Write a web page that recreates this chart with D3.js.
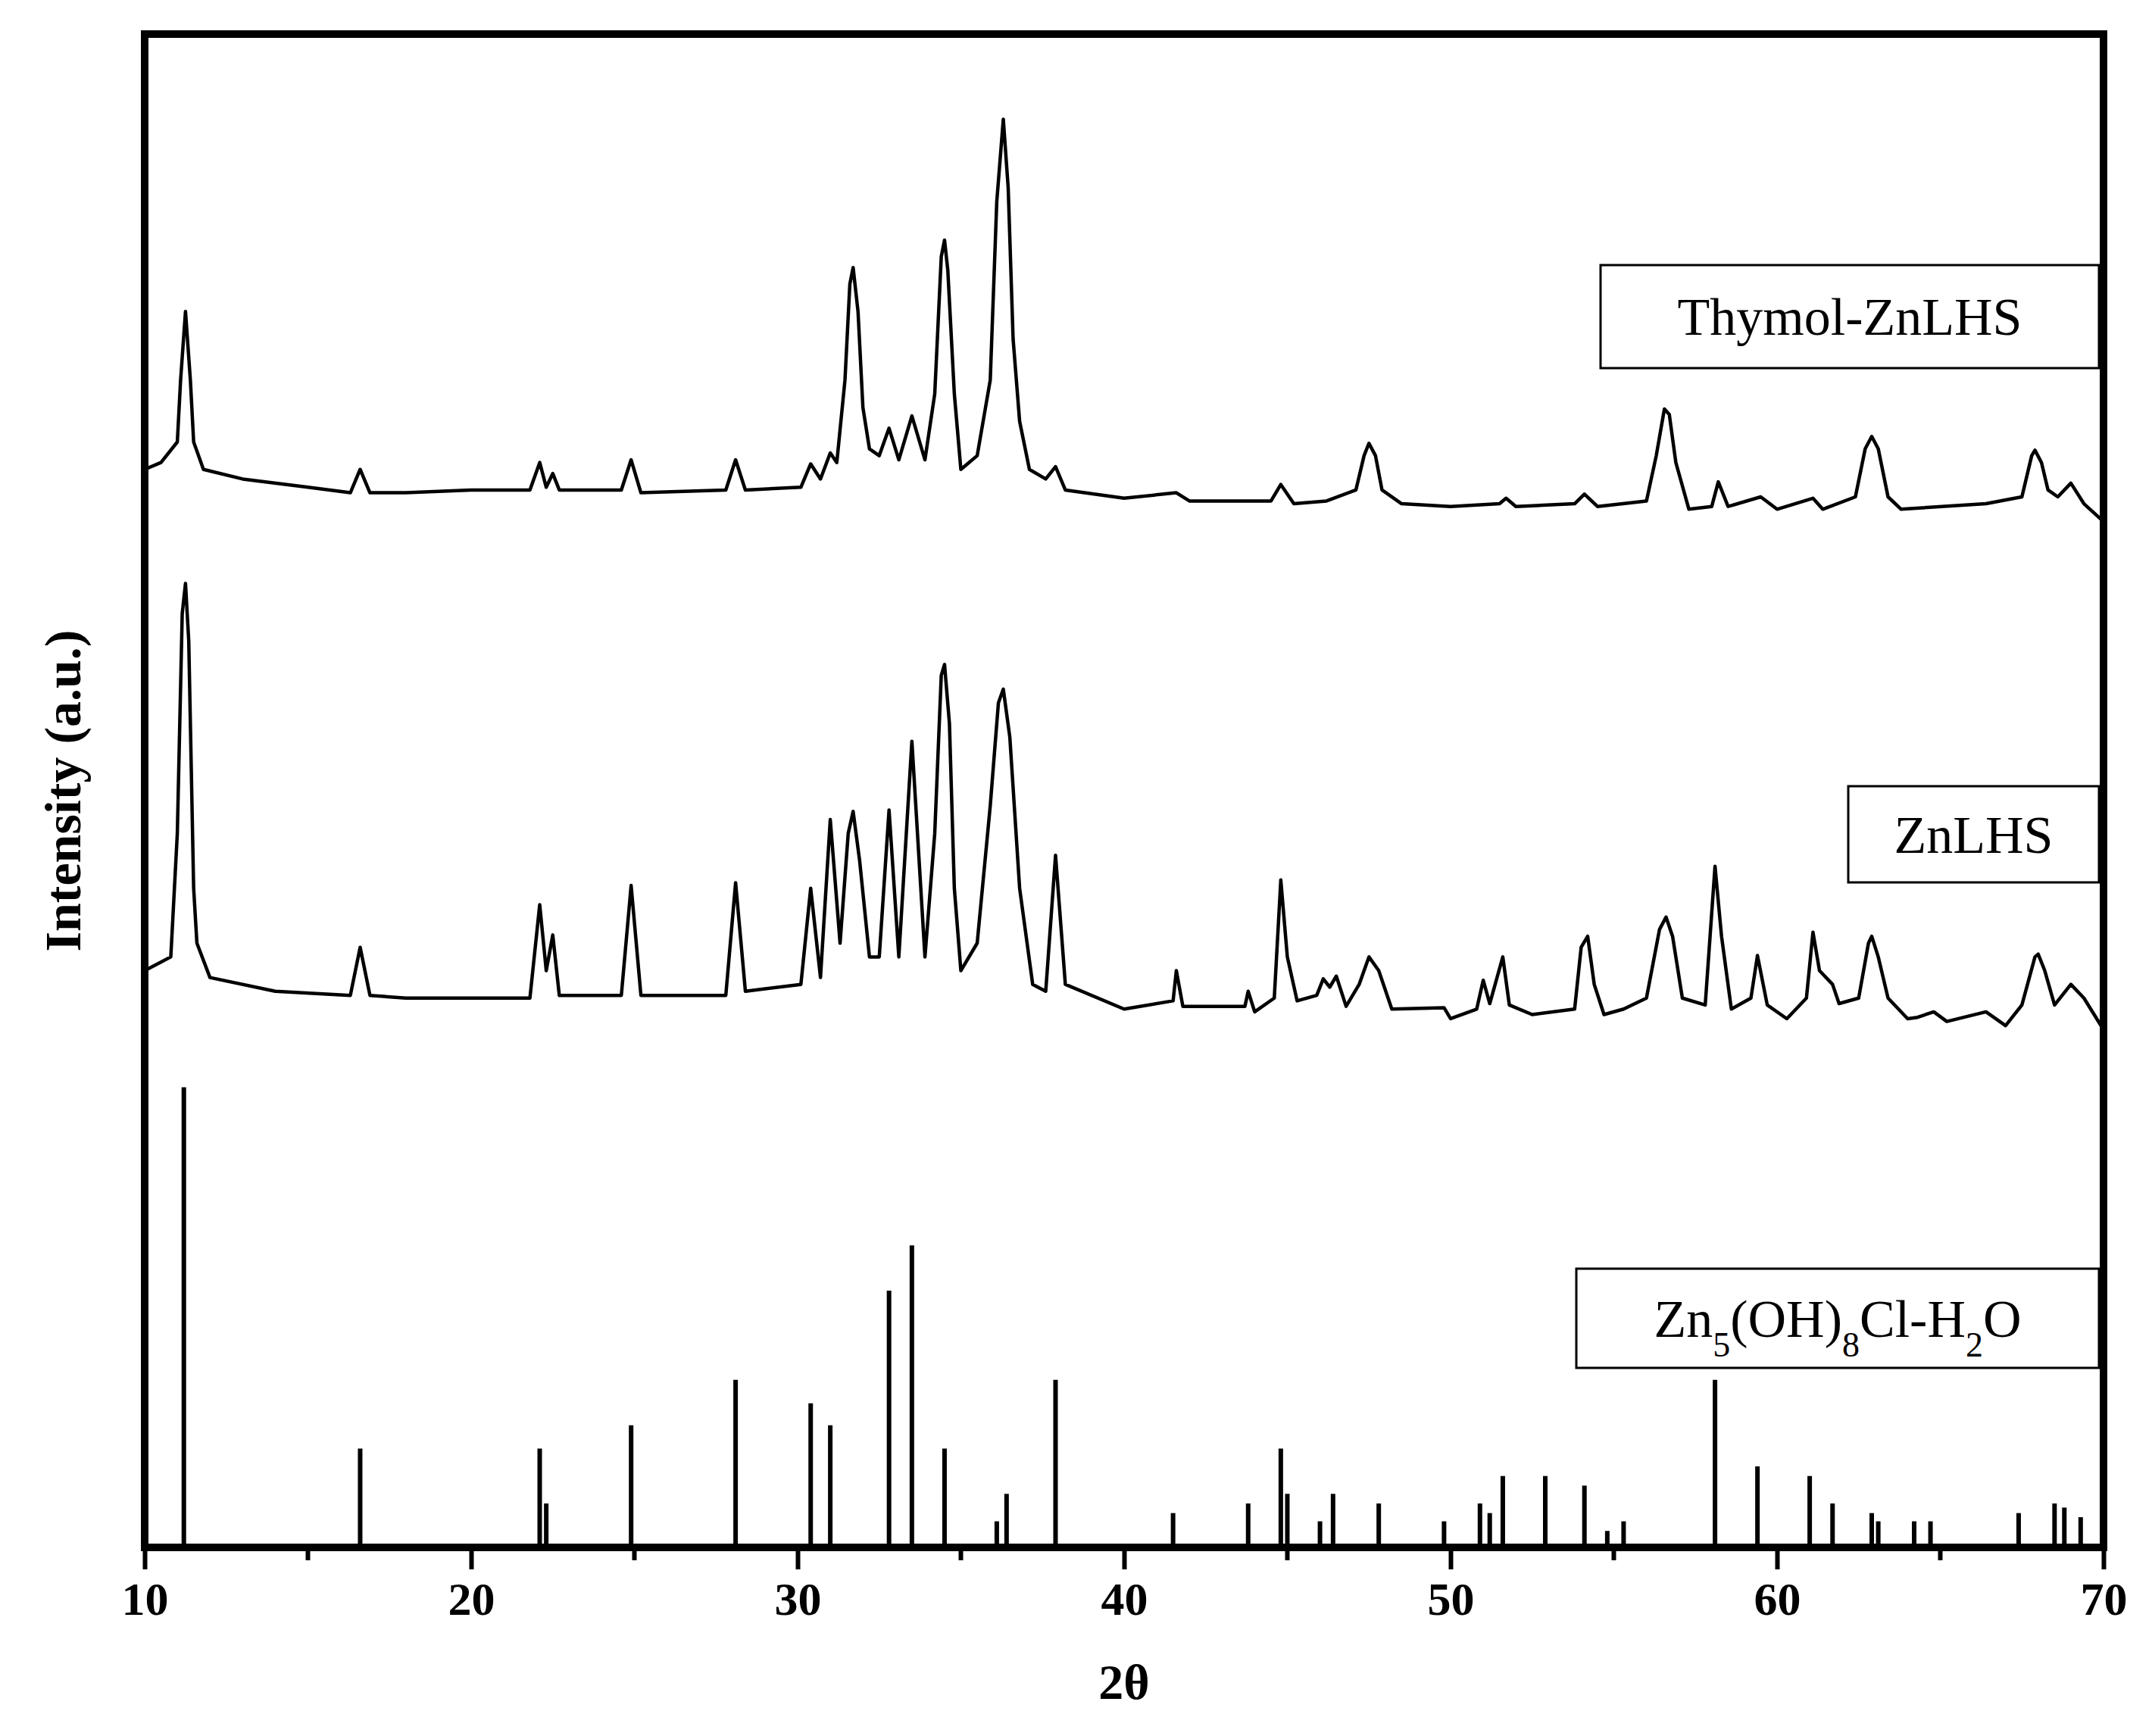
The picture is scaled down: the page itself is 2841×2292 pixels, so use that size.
<!DOCTYPE html>
<html>
<head>
<meta charset="utf-8">
<script src="https://cdn.jsdelivr.net/npm/d3@7/dist/d3.min.js"></script>
<style>
  body { margin: 0; background: #fff; }
  text { font-family: "Liberation Serif", "Times New Roman", serif; }
</style>
</head>
<body>
<div id="chart"></div>
<script>
var svgWidth = 2841;
var svgHeight = 2292;

var margin = { top: 45, right: 64, bottom: 249, left: 191 };
var width = svgWidth - margin.left - margin.right;
var height = svgHeight - margin.top - margin.bottom;

// Thymol-ZnLHS trace [2theta, intensity a.u.]
var thymolData = [
  [10.0,785],[10.5,790],[11.0,805],[11.1,850],[11.25,900],[11.4,850],[11.5,805],[11.8,785],[13,778],[15,772],[16.3,768],[16.6,785],
  [16.9,768],[18,768],[20,770],[21.8,770],[22.1,790],[22.3,772],[22.5,782],[22.7,770],[24.6,770],[24.9,792],
  [25.2,768],[27.8,770],[28.1,792],[28.4,770],[30.1,772],[30.4,789],[30.7,778],[31.0,797],[31.2,790],[31.45,850],[31.6,920],[31.7,932],[31.85,900],
  [32.0,830],[32.2,800],[32.5,795],[32.8,815],[33.1,792],[33.5,824],[33.9,792],[34.2,840],[34.4,940],[34.5,952],[34.6,930],[34.8,840],[35.0,785],[35.5,795],[35.9,850],
  [36.1,980],[36.3,1040],[36.45,990],[36.6,880],[36.8,820],[37.1,785],[37.6,778],[37.9,787],[38.2,770],[40,764],[41.6,768],[42,762],[44.5,762],
  [44.8,774],[45.2,760],[46.2,762],[47.1,770],[47.35,795],[47.5,804],[47.7,795],[47.9,770],[48.5,760],[50,758],[51.5,760],[51.7,764],
  [52,758],[53.8,760],[54.1,767],[54.5,758],[56,762],[56.3,795],[56.55,829],[56.7,825],[56.9,790],[57.3,756],[58.0,758],
  [58.2,776],[58.5,758],[59.5,765],[60,756],[61.1,764],[61.4,756],[62.4,765],[62.7,800],[62.9,809],[63.1,800],[63.4,765],[63.8,756],
  [66.4,760],[67.5,765],[67.8,795],[67.9,799],[68.1,790],[68.3,770],[68.6,765],[69,775],[69.4,760],[70,747]
];

// ZnLHS trace
var znlhsData = [
  [10,420],[10.8,430],[11.0,520],[11.15,680],[11.25,702],[11.35,660],[11.5,480],[11.6,440],[12,415],[14,405],[16.3,402],[16.6,437],[16.9,402],[18,400],
  [21.8,400],[22.1,468],[22.3,420],[22.5,446],[22.7,402],[24.6,402],[24.9,482],[25.2,402],[27.8,402],[28.1,484],
  [28.4,405],[30.1,410],[30.4,480],[30.7,415],[31.0,530],[31.3,440],[31.55,520],[31.7,536],[31.9,500],[32.2,430],[32.5,430],[32.8,537],
  [33.1,430],[33.5,587],[33.9,430],[34.2,520],[34.4,635],[34.5,643],[34.65,600],[34.8,480],[35.0,420],[35.5,440],[35.9,540],[36.15,615],[36.3,625],[36.5,590],[36.8,480],[37.2,410],
  [37.6,405],[37.9,504],[38.2,410],[40,392],[41.5,398],[41.6,420],[41.8,394],[43.7,394],[43.8,405],[44.0,390],
  [44.6,400],[44.8,486],[45.0,430],[45.3,398],[45.9,402],[46.1,414],[46.3,408],[46.5,416],[46.8,394],[47.2,410],
  [47.5,430],[47.8,420],[48.2,392],[49.8,393],[50,385],[50.8,392],[51.0,413],[51.2,396],[51.6,430],[51.8,395],
  [52.5,388],[53.8,392],[54.0,437],[54.2,445],[54.4,410],[54.7,388],[55.3,392],[56,400],[56.4,450],[56.6,459],[56.8,445],[57.1,400],
  [57.8,395],[58.1,496],[58.3,445],[58.6,392],[59.2,400],[59.4,431],[59.7,395],[60.3,385],[60.9,400],[61.1,448],
  [61.3,420],[61.7,410],[61.9,396],[62.5,400],[62.8,440],[62.9,445],[63.1,430],[63.4,400],[64.0,385],[64.3,386],[64.8,390],[65.2,383],
  [66.4,390],[67.0,380],[67.5,395],[67.9,430],[68,432],[68.2,420],[68.5,395],[69,410],[69.4,400],[70,377]
];

// Reference pattern Zn5(OH)8Cl-H2O sticks
var refPositions = [11.2,16.6,22.1,22.3,24.9,28.1,30.4,31.0,32.8,33.5,34.5,36.1,36.4,37.9,41.5,43.8,44.8,45.0,46.0,46.4,
  47.8,49.8,50.9,51.2,51.6,52.9,54.1,54.8,55.3,58.1,59.4,61.0,61.7,62.9,63.1,64.2,64.7,67.4,68.5,68.8,69.3];
var refHeights = [335,72,72,32,89,122,105,89,187,220,72,19,39,122,25,32,72,39,19,39,
  32,19,32,25,52,52,45,12,19,122,59,52,32,25,19,19,19,25,32,29,22];

var xTicks = [10, 20, 30, 40, 50, 60, 70];
var xMinorTicks = [15, 25, 35, 45, 55, 65];

var svg = d3.select("#chart")
  .append("svg")
  .attr("width", svgWidth)
  .attr("height", svgHeight);

var chartGroup = svg.append("g")
  .attr("transform", `translate(${margin.left}, ${margin.top})`);

var xScale = d3.scaleLinear().domain([10, 70]).range([0, width]);
var yScale = d3.scaleLinear().domain([0, 1102]).range([height, 0]);

var line = d3.line()
  .x(d => xScale(d[0]))
  .y(d => yScale(d[1]));

[thymolData, znlhsData].forEach(function(series) {
  chartGroup.append("path")
    .datum(series)
    .attr("d", line)
    .attr("fill", "none")
    .attr("stroke", "#000")
    .attr("stroke-width", 4.5)
    .attr("stroke-linejoin", "round");
});

chartGroup.selectAll(".stick")
  .data(refPositions)
  .enter()
  .append("line")
  .attr("x1", d => xScale(d))
  .attr("x2", d => xScale(d))
  .attr("y1", yScale(0))
  .attr("y2", (d, i) => yScale(refHeights[i]))
  .attr("stroke", "#000")
  .attr("stroke-width", 6);

// frame
chartGroup.append("rect")
  .attr("width", width)
  .attr("height", height)
  .attr("fill", "none")
  .attr("stroke", "#000")
  .attr("stroke-width", 10);

// x axis
var bottomAxis = d3.axisBottom(xScale).tickValues(xTicks).tickSize(24).tickPadding(16).tickFormat(d3.format("d"));
var xAxis = chartGroup.append("g")
  .attr("transform", `translate(0,${height + 5})`)
  .call(bottomAxis);
xAxis.select(".domain").remove();
xAxis.selectAll(".tick line").attr("stroke-width", 6);
xAxis.selectAll("text")
  .style("font-family", "Liberation Serif")
  .style("font-weight", "bold")
  .style("font-size", "62px")
  .attr("fill", "#000");

chartGroup.append("g")
  .attr("transform", `translate(0,${height + 5})`)
  .selectAll("line")
  .data(xMinorTicks)
  .enter()
  .append("line")
  .attr("x1", d => xScale(d))
  .attr("x2", d => xScale(d))
  .attr("y1", 0)
  .attr("y2", 12)
  .attr("stroke", "#000")
  .attr("stroke-width", 6);

// axis labels
chartGroup.append("text")
  .attr("x", width / 2)
  .attr("y", height + 200)
  .attr("text-anchor", "middle")
  .attr("font-weight", "bold")
  .attr("font-size", 66)
  .text("2θ");

chartGroup.append("text")
  .attr("transform", "rotate(-90)")
  .attr("x", -height / 2)
  .attr("y", -85)
  .attr("text-anchor", "middle")
  .attr("font-weight", "bold")
  .attr("font-size", 68)
  .text("Intensity (a.u.)");

// labels in boxes
function labelBox(x0, y0, w, h) {
  var g = svg.append("g").attr("transform", `translate(${x0},${y0})`);
  g.append("rect").attr("width", w).attr("height", h)
    .attr("fill", "#fff").attr("stroke", "#000").attr("stroke-width", 3);
  return g.append("text")
    .attr("x", w / 2).attr("y", h / 2 + 24)
    .attr("text-anchor", "middle")
    .attr("font-size", 70);
}

labelBox(2113, 350, 658, 136).text("Thymol-ZnLHS");
labelBox(2440, 1038, 331, 127).text("ZnLHS");
var refLabel = labelBox(2081, 1675, 690, 131);
refLabel.append("tspan").text("Zn");
refLabel.append("tspan").attr("baseline-shift", "sub").attr("font-size", 46).text("5");
refLabel.append("tspan").text("(OH)");
refLabel.append("tspan").attr("baseline-shift", "sub").attr("font-size", 46).text("8");
refLabel.append("tspan").text("Cl-H");
refLabel.append("tspan").attr("baseline-shift", "sub").attr("font-size", 46).text("2");
refLabel.append("tspan").text("O");
</script>
</body>
</html>
